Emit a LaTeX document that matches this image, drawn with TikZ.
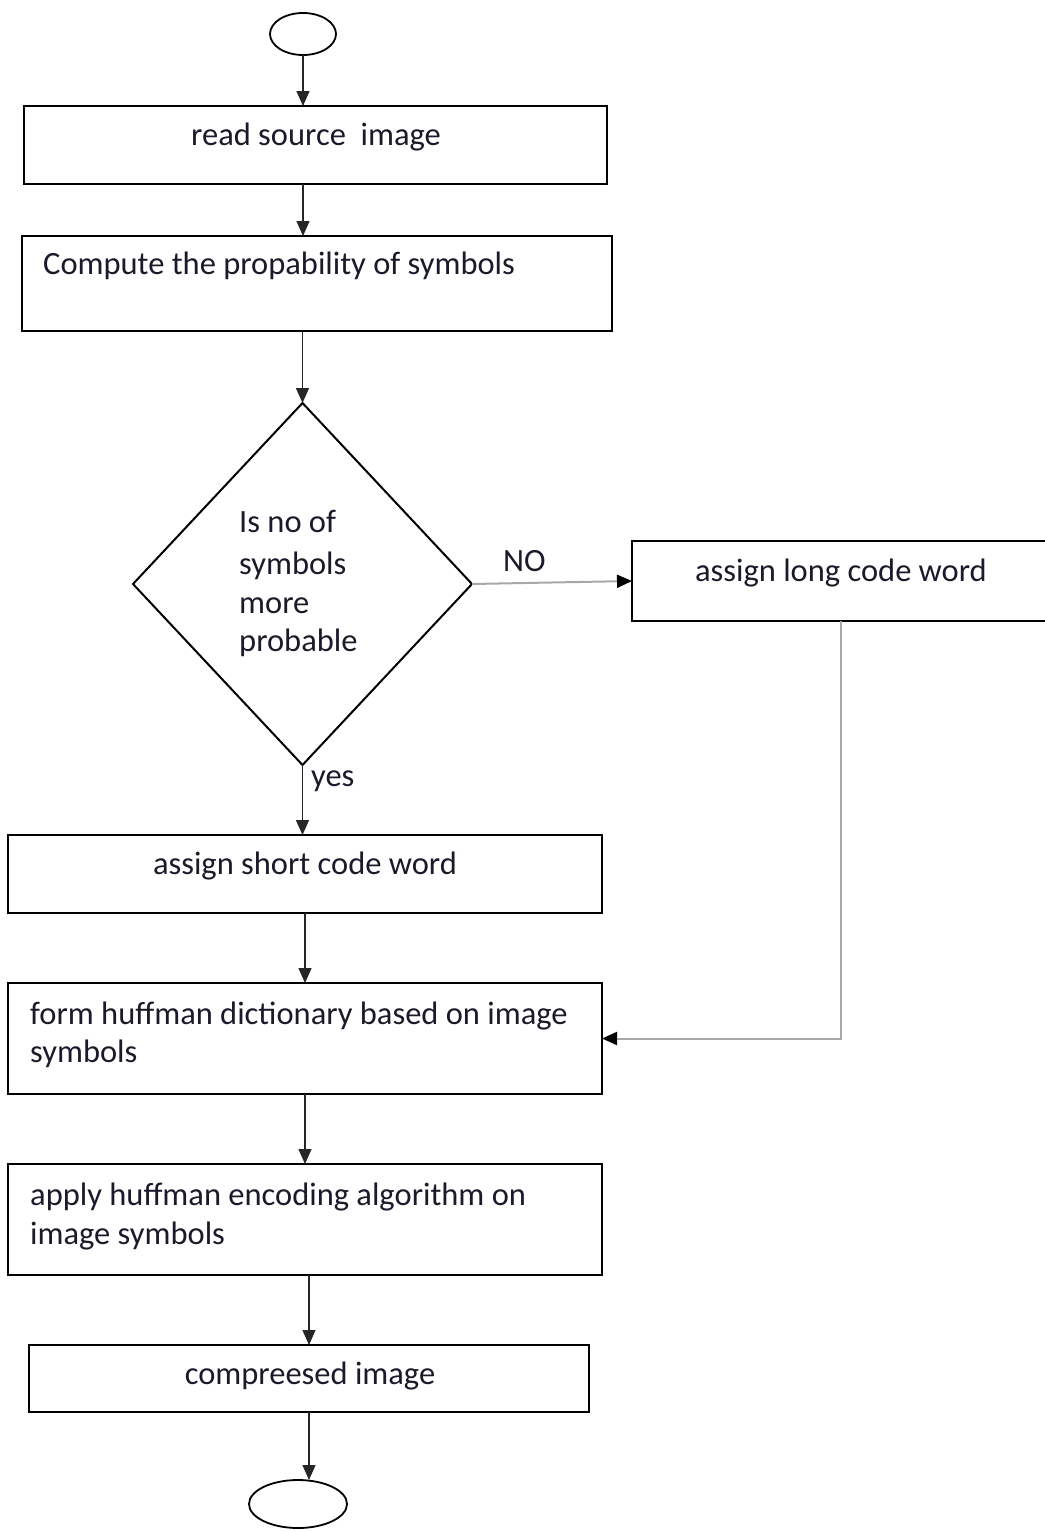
\documentclass[tikz,border=0pt]{standalone}
\usepackage{fontspec}
\setmainfont{Carlito}
\usetikzlibrary{shapes.geometric,arrows.meta}
\definecolor{inkc}{HTML}{1A1A2A}
\definecolor{linkgray}{HTML}{A8A8A8}
\begin{document}
\begin{tikzpicture}[x=1pt,y=-1pt,
  box/.style={draw=black,line width=2pt,rectangle,inner sep=0pt,outer sep=0pt},
  term/.style={draw=black,line width=1.8pt,ellipse,inner sep=0pt,outer sep=0pt},
  txt/.style={inner sep=0pt,text=inkc,font=\fontsize{32.5}{38}\selectfont},
  arr/.style={draw=black!85,line width=1.3pt,-{Triangle[width=13pt,length=15pt]}},
  garr/.style={draw=linkgray,line width=2pt,-{Triangle[width=13pt,length=15pt,fill=black,color=black]}}]
\useasboundingbox (0,0) rectangle (1044,1531);

% terminals
\node[term,minimum width=66pt,minimum height=42pt] (st) at (303,34) {};
\node[term,minimum width=98pt,minimum height=48pt] (en) at (298,1504) {};

% process boxes
\node[box,minimum width=583pt,minimum height=78pt] (b1) at (315.5,145) {};
\node[box,minimum width=590pt,minimum height=95pt] (b2) at (317,283.5) {};
\node[box,minimum width=418pt,minimum height=80pt] (long) at (841,581) {};
\node[box,minimum width=594pt,minimum height=78pt] (short) at (305,874) {};
\node[box,minimum width=594pt,minimum height=111pt] (form) at (305,1038.5) {};
\node[box,minimum width=594pt,minimum height=111pt] (apply) at (305,1219.5) {};
\node[box,minimum width=560pt,minimum height=67pt] (comp) at (309,1378.5) {};

% decision
\node[draw=black,line width=2pt,diamond,minimum width=339pt,minimum height=362pt,inner sep=0pt,outer sep=0pt] (d) at (302.5,584) {};

% labels
\node[txt,anchor=mid] at (316,143) {read source~ image};
\node[txt,anchor=mid west] at (43,272) {Compute the propability of symbols};
\node[txt,anchor=mid west] at (239,530) {Is no of};
\node[txt,anchor=mid west] at (239,572) {symbols};
\node[txt,anchor=mid west] at (239,611) {more};
\node[txt,anchor=mid west] at (239,649) {probable};
\node[txt,anchor=mid west] at (503,569) {NO};
\node[txt,anchor=mid] at (841,579) {assign long code word};
\node[txt,anchor=mid west] at (311,784) {yes};
\node[txt,anchor=mid] at (305,872) {assign short code word};
\node[txt,anchor=mid west] at (30,1022) {form huffman dictionary based on image};
\node[txt,anchor=mid west] at (30,1060) {symbols};
\node[txt,anchor=mid west] at (30,1203) {apply huffman encoding algorithm on};
\node[txt,anchor=mid west] at (30,1242) {image symbols};
\node[txt,anchor=mid] at (310,1382) {compreesed image};

% connectors
\draw[arr] (st.south) -- (st.south |- b1.north);
\draw[arr] (b1.south -| st) -- (b2.north -| st);
\draw[arr] (b2.south -| d) -- (d.north);
\draw[arr] (d.south) -- (d.south |- short.north);
\draw[arr] (short.south) -- (form.north);
\draw[arr] (form.south) -- (apply.north);
\draw[arr] (apply.south -| comp) -- (comp.north);
\draw[arr] (comp.south) -- (comp.south |- en.north);
\draw[garr] (d.east) -- (long.west);
\draw[garr] (long.south) -- (long.south |- form.east) -- (form.east);
\end{tikzpicture}
\end{document}
